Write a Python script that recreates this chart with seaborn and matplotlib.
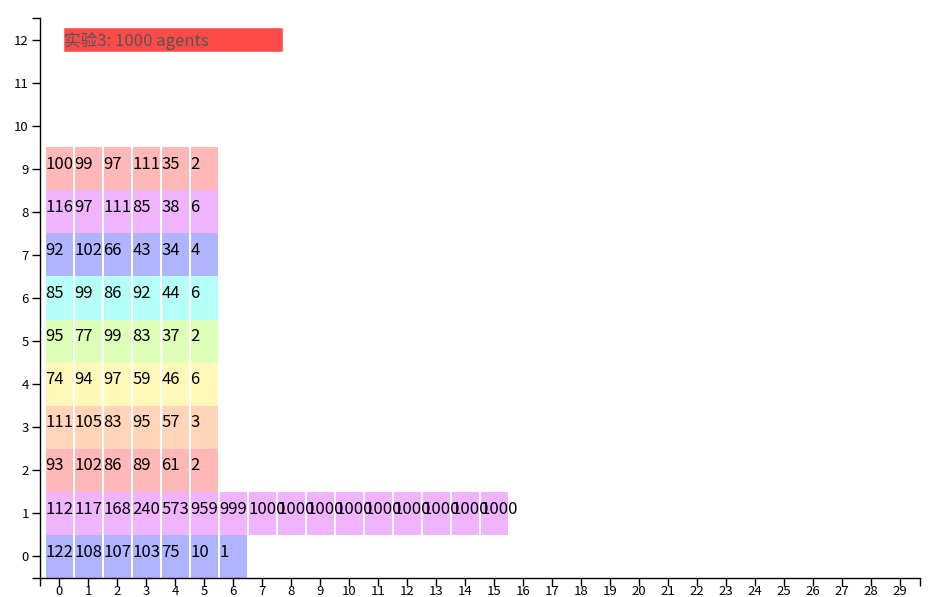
import numpy as np
import pandas as pd
import matplotlib.pyplot as plt
import seaborn as sns

# Datos: conteo por fila (fila = estado, columna = paso)
fila0 = [122, 108, 107, 103, 75, 10, 1]
fila1 = [112, 117, 168, 240, 573, 959, 999, 1000, 1000, 1000, 1000, 1000, 1000, 1000, 1000, 1000]
fila2 = [93, 102, 86, 89, 61, 2]
fila3 = [111, 105, 83, 95, 57, 3]
fila4 = [74, 94, 97, 59, 46, 6]
fila5 = [95, 77, 99, 83, 37, 2]
fila6 = [85, 99, 86, 92, 44, 6]
fila7 = [92, 102, 66, 43, 34, 4]
fila8 = [116, 97, 111, 85, 38, 6]
fila9 = [100, 99, 97, 111, 35, 2]
filas = [fila0, fila1, fila2, fila3, fila4, fila5, fila6, fila7, fila8, fila9]

colores = ['#b0b4ff', '#f0b4ff', '#ffb8b8', '#ffd4b8', '#fff8b8', '#ddffb8', '#b4fff8']
titulo = '实验3: 1000 agents'
n_x = 30
n_y = 13

sns.set_style('white')
plt.rcParams['font.family'] = ['Noto Sans CJK SC', 'DejaVu Sans']

fig = plt.figure(figsize=(9.42, 5.97), dpi=100)
ax = fig.add_axes([40 / 942, 19 / 597, 880 / 942, 560 / 597])

for i, fila in enumerate(filas):
    df = pd.DataFrame({'paso': np.arange(len(fila)), 'h': np.ones(len(fila))})
    sns.barplot(data=df, x='paso', y='h', bottom=i - 0.5, color=colores[i % 7],
                saturation=1, width=0.93, native_scale=True, errorbar=None,
                linewidth=0, ax=ax)
    for j, v in enumerate(fila):
        ax.text(j - 0.475, i + 0.1, str(v), ha='left', va='center', fontsize=12,
                color='black')

# etiqueta del experimento
ax.barh(12, 7.57, left=0.14, height=0.58, color='#ff4a4a')
ax.text(0.15, 11.98, titulo, ha='left', va='center', fontsize=12, color='#555555')

ax.set_xlim(-0.665, 29.68)
ax.set_ylim(-0.5, 12.5)
ax.set_xticks(range(n_x))
ax.set_xticklabels([str(k) for k in range(n_x)])
ax.set_yticks(range(n_y))
ax.set_yticklabels([str(k) for k in range(n_y)])
ax.set_xticks([-0.665, 29.68], minor=True)
ax.set_yticks([-0.5, 12.5], minor=True)
ax.tick_params(which='both', direction='out', length=6, width=1, color='black',
               labelsize=9.5, labelcolor='black')
ax.tick_params(axis='x', which='both', bottom=True, pad=-1)
ax.tick_params(axis='y', which='both', left=True, pad=2)
ax.set_xlabel('')
ax.set_ylabel('')
sns.despine(ax=ax)
for s in ['left', 'bottom']:
    ax.spines[s].set_color('black')
    ax.spines[s].set_linewidth(1)

fig.savefig('out.png', dpi=100)
